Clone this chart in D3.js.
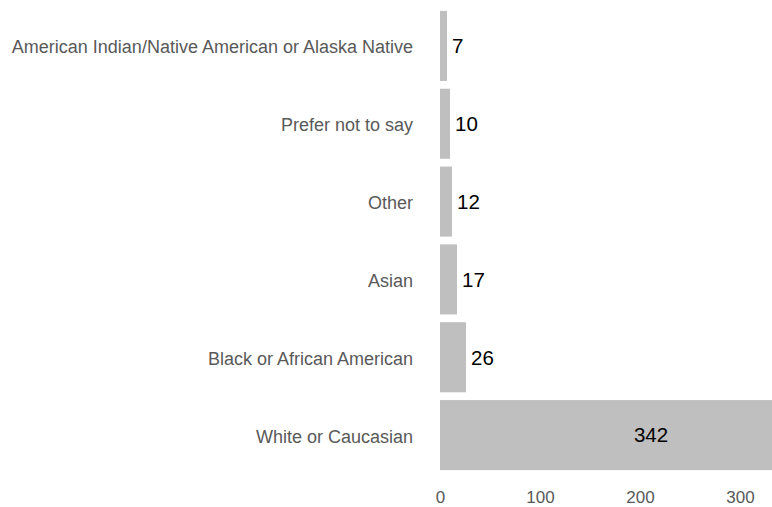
<!DOCTYPE html>
<html>
<head>
<meta charset="utf-8">
<script src="https://cdn.jsdelivr.net/npm/d3@7"></script>
<style>
  html, body { margin: 0; padding: 0; background: #fff; }
  svg { display: block; font-family: "Liberation Sans", Arial, sans-serif; }
</style>
</head>
<body>
<svg id="chart" width="772" height="507"></svg>
<script>
// Respondents by race / ethnicity
const categories = [
  "American Indian/Native American or Alaska Native",
  "Prefer not to say",
  "Other",
  "Asian",
  "Black or African American",
  "White or Caucasian"
];
const counts = [7, 10, 12, 17, 26, 342];
const xTicks = [0, 100, 200, 300];

const width = 772, height = 507;
const svg = d3.select("#chart");

const x = d3.scaleLinear().domain([0, 332]).range([440, 772]);
const y = d3.scaleBand().domain(categories).range([7, 474])
  .paddingInner(0.1).paddingOuter(0.05);

const data = categories.map((c, i) => ({ category: c, value: counts[i] }));

// clip so the longest bar runs off the plot edge
svg.append("defs").append("clipPath").attr("id", "plot")
  .append("rect").attr("x", 440).attr("y", 0).attr("width", 332).attr("height", height);

svg.append("g").attr("clip-path", "url(#plot)")
  .selectAll("rect").data(data).join("rect")
  .attr("x", x(0))
  .attr("y", d => y(d.category))
  .attr("width", d => x(d.value) - x(0))
  .attr("height", y.bandwidth())
  .attr("fill", "#bfbfbf");

// value labels: outside short bars, inside the long one
const inside = d => x(d.value) > width;
svg.append("g").selectAll("text").data(data).join("text")
  .attr("x", d => inside(d) ? x(d.value * 0.617) : x(d.value) + 5)
  .attr("y", d => y(d.category) + y.bandwidth() / 2)
  .attr("dy", "0.36em")
  .attr("text-anchor", d => inside(d) ? "middle" : "start")
  .attr("font-size", 20.5)
  .attr("fill", "#000")
  .text(d => d.value);

// category axis
const yAxis = svg.append("g")
  .attr("transform", `translate(${x(0)},0)`)
  .call(d3.axisLeft(y).tickSize(0).tickPadding(27));
yAxis.select(".domain").remove();
yAxis.selectAll("text")
  .attr("dy", "0.42em")
  .attr("font-size", 18)
  .attr("fill", "#595959")
  .attr("font-family", "Liberation Sans, Arial, sans-serif");

// value axis
const xAxis = svg.append("g")
  .attr("transform", `translate(0,474)`)
  .call(d3.axisBottom(x).tickValues(xTicks).tickSize(0).tickPadding(17));
xAxis.select(".domain").remove();
xAxis.selectAll("text")
  .attr("font-size", 17)
  .attr("fill", "#595959")
  .attr("font-family", "Liberation Sans, Arial, sans-serif");
</script>
</body>
</html>
